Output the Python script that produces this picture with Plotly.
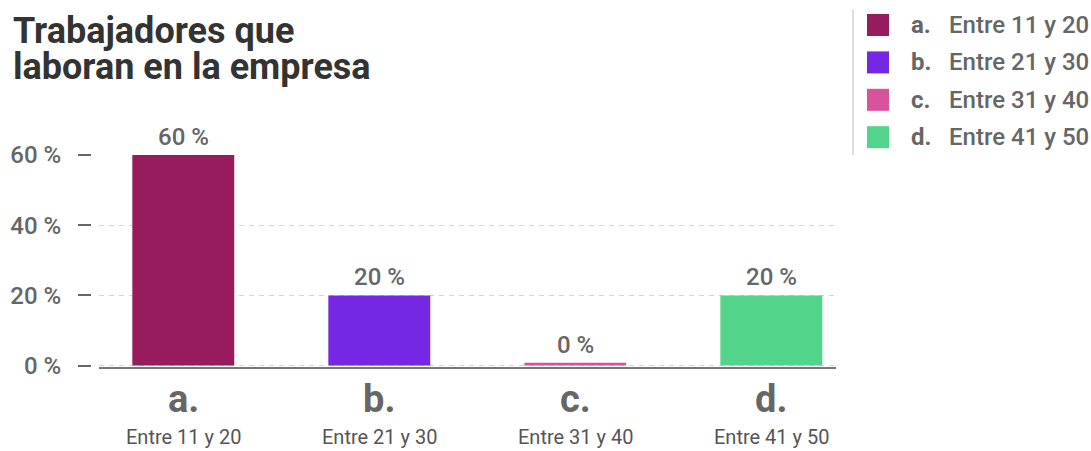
import plotly.graph_objects as go

# ---- data ----
letters = ["a.", "b.", "c.", "d."]
ranges = ["Entre 11 y 20", "Entre 21 y 30", "Entre 31 y 40", "Entre 41 y 50"]
values = [60, 20, 0, 20]
colors = ["#961C5E", "#7527E3", "#D6529C", "#52D48A"]
yticks = [0, 20, 40, 60]
title_lines = ["Trabajadores que", "laboran en la empresa"]

W, H = 1091, 451
ML, MR, MT, MB = 91, 255, 155, 84
PW = W - ML - MR
PH = H - MT - MB

def px(x):
    return (x - ML) / PW

def py(y):
    return (H - MB - y) / PH

# minimum visible height for zero bars (like the original chart)
heights = [max(v, 0.8) for v in values]

fig = go.Figure()
fig.add_trace(go.Bar(
    x=letters, y=heights, marker=dict(color=colors, line=dict(width=0)),
    width=0.52, hoverinfo="skip", showlegend=False,
))

ann = []
# bar value labels
for l, v, h in zip(letters, values, heights):
    ann.append(dict(x=l, y=h, xref="x", yref="y", text=f"{v} %", showarrow=False,
                    yanchor="bottom", yshift=2,
                    font=dict(family="Roboto", size=24, color="#666666", weight=500)))
# x category labels
for l, r in zip(letters, ranges):
    ann.append(dict(x=l, y=py(423), xref="x", yref="paper", text=f"<b>{l}</b>", showarrow=False,
                    yanchor="bottom",
                    font=dict(family="Roboto", size=38, color="#666666")))
    ann.append(dict(x=l, y=py(451), xref="x", yref="paper", text=r, showarrow=False,
                    yanchor="bottom",
                    font=dict(family="Roboto", size=20, color="#555555")))
# title
for i, t in enumerate(title_lines):
    ann.append(dict(x=px(11), y=py(31 + 36 * i), xref="paper", yref="paper", text=f"<b>{t}</b>",
                    showarrow=False, xanchor="left", yanchor="middle",
                    font=dict(family="Roboto", size=36, color="#333333")))

shapes = []
# legend
shapes.append(dict(type="line", xref="paper", yref="paper", x0=px(853), x1=px(853),
                   y0=py(10), y1=py(155), line=dict(color="#dddddd", width=2)))
for i, (l, r, c) in enumerate(zip(letters, ranges, colors)):
    cy = 25 + 37.4 * i
    shapes.append(dict(type="rect", xref="paper", yref="paper", x0=px(867), x1=px(889),
                       y0=py(cy - 11), y1=py(cy + 11), fillcolor=c, line=dict(width=0)))
    ann.append(dict(x=px(909), y=py(cy), xref="paper", yref="paper", text=f"<b>{l}</b>",
                    showarrow=False, xanchor="left", yanchor="middle",
                    font=dict(family="Roboto", size=24, color="#666666")))
    ann.append(dict(x=px(947), y=py(cy), xref="paper", yref="paper", text=r,
                    showarrow=False, xanchor="left", yanchor="middle",
                    font=dict(family="Roboto", size=24, color="#666666", weight=500)))

fig.update_layout(
    width=W, height=H,
    margin=dict(l=ML, r=MR, t=MT, b=MB, pad=0),
    paper_bgcolor="white", plot_bgcolor="white",
    xaxis=dict(domain=[8 / PW, 1], range=[-0.43, 3.33], showticklabels=False,
               showline=True, linecolor="#777777", linewidth=2, ticks="",
               showgrid=False, zeroline=False, fixedrange=True),
    yaxis=dict(anchor="free", position=0, range=[-0.4, 60], tickmode="array",
               tickvals=yticks, ticktext=[f"{v} %" for v in yticks],
               ticks="outside", ticklen=13, tickwidth=1.5,
               tickcolor="#666666", ticklabelstandoff=12,
               tickfont=dict(family="Roboto", size=24, color="#666666", weight=500),
               showline=False, showgrid=True, gridcolor="#d4d4d4", gridwidth=1,
               griddash="5px,5px", zeroline=False, fixedrange=True, automargin=False),
    annotations=ann, shapes=shapes, bargap=0.48,
)

fig.write_html("out.html", config={"displayModeBar": False},
               post_script="document.body.style.margin='0';")
